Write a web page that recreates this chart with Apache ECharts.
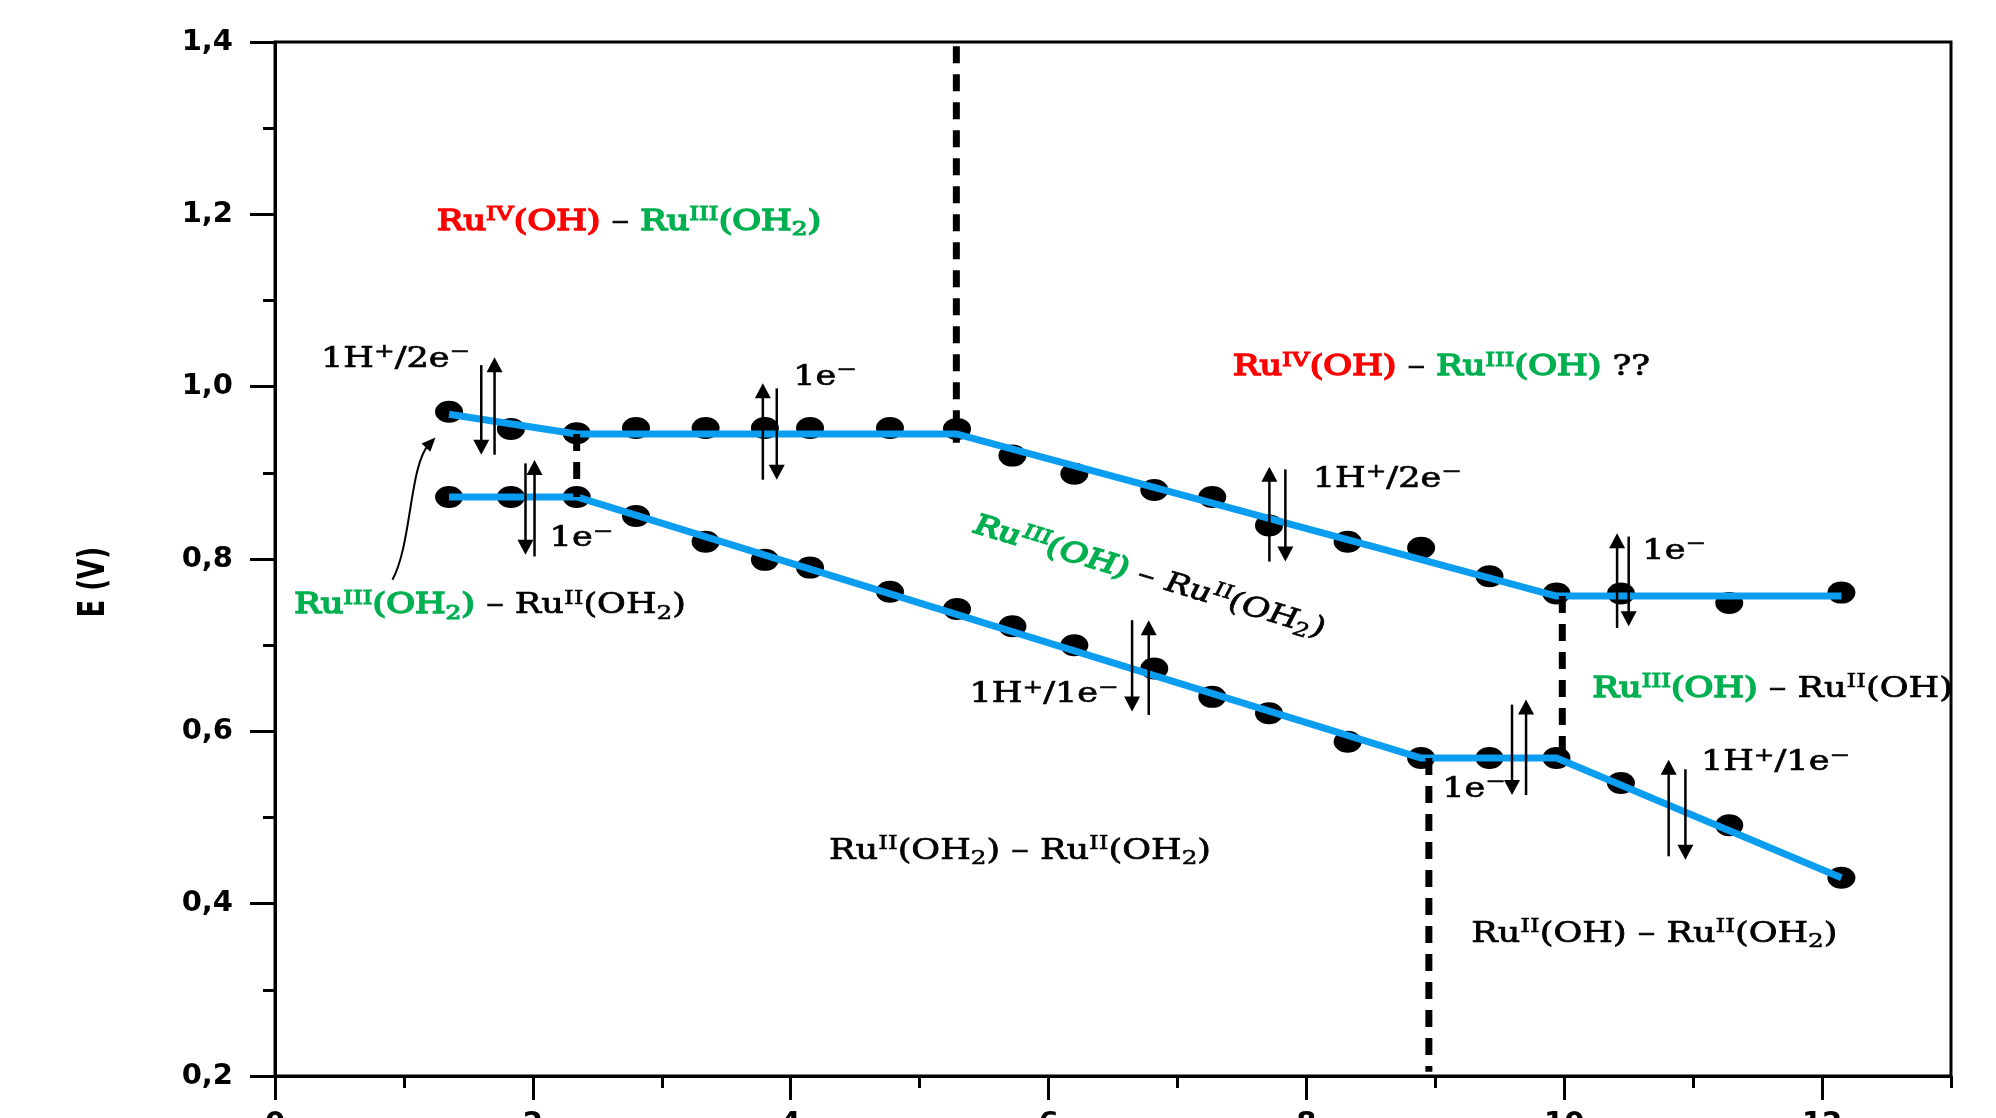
<!DOCTYPE html>
<html><head><meta charset="utf-8">
<script src="https://cdn.jsdelivr.net/npm/echarts@6/dist/echarts.min.js"></script>
<style>html,body{margin:0;padding:0;background:#fff}#c{width:1996px;height:1118px}</style>
</head><body><div id="c"></div>
<script>
// ---- data ----
const pH = [1.35, 1.83, 2.34, 2.80, 3.34, 3.80, 4.15, 4.77, 5.29, 5.72, 6.20, 6.82, 7.27, 7.71, 8.32, 8.89, 9.42, 9.94, 10.44, 11.28, 12.15];
const upperE = [0.971, 0.951, 0.946, 0.952, 0.952, 0.952, 0.952, 0.952, 0.951, 0.920, 0.899, 0.880, 0.872, 0.839, 0.820, 0.813, 0.780, 0.760, 0.760, 0.749, 0.761];
const lowerE = [0.872, 0.872, 0.872, 0.850, 0.820, 0.799, 0.790, 0.762, 0.742, 0.722, 0.700, 0.673, 0.640, 0.621, 0.588, 0.569, 0.569, 0.569, 0.540, 0.491, 0.430];
// fitted (blue) segments
const upperFitX = [1.35, 2.34, 5.29, 9.94, 12.15];
const upperFitE = [0.968, 0.945, 0.945, 0.757, 0.757];
const lowerFitX = [1.35, 2.34, 8.89, 9.94, 12.15];
const lowerFitE = [0.872, 0.872, 0.569, 0.569, 0.430];
// dashed boundaries
const dashX = [5.285, 2.34, 9.985, 8.95];
const dashTop = [1.395, 0.945, 0.757, 0.569];
const dashBottom = [0.935, 0.872, 0.569, 0.205];
// double arrows: x position, start E, tip E
const arrowX    = [1.600, 1.703, 1.943, 2.013, 3.784, 3.892, 7.713, 7.837, 6.648, 6.777, 9.595, 9.704, 10.41, 10.50, 10.81, 10.94];
const arrowFrom = [1.025, 0.921, 0.911, 0.803, 0.892, 0.998, 0.797, 0.904, 0.729, 0.619, 0.631, 0.526, 0.720, 0.826, 0.455, 0.556];
const arrowTo   = [0.921, 1.034, 0.805, 0.915, 1.004, 0.892, 0.907, 0.797, 0.623, 0.729, 0.526, 0.637, 0.830, 0.722, 0.567, 0.451];
// curved pointer (start, control 1, control 2, end)
const curveX = [0.911, 1.059, 1.044, 1.245];
const curveE = [0.776, 0.816, 0.909, 0.941];
// annotation texts
const noteX = [1.257, 7.431, 0.149, 10.22, 4.298, 9.279, 0.357, 4.020, 2.130, 8.049, 5.387, 10.606, 9.054, 11.06];
const noteE = [1.190, 1.0215, 0.745, 0.648, 0.4604, 0.3637, 1.031, 1.010, 0.823, 0.892, 0.642, 0.8086, 0.532, 0.563];
const noteText = [
  '{r|Ru}{rs|IV}{r|(OH)}{k| – }{g|Ru}{gs|III}{g|(OH}{gb|2}{g|)}',
  '{r|Ru}{rs|IV}{r|(OH)}{k| – }{g|Ru}{gs|III}{g|(OH)}{k| ??}',
  '{g|Ru}{gs|III}{g|(OH}{gb|2}{g|)}{k| – Ru}{ks|II}{k|(OH}{kb|2}{k|)}',
  '{g|Ru}{gs|III}{g|(OH)}{k| – Ru}{ks|II}{k|(OH)}',
  '{k|Ru}{ks|II}{k|(OH}{kb|2}{k|) – Ru}{ks|II}{k|(OH}{kb|2}{k|)}',
  '{k|Ru}{ks|II}{k|(OH) – Ru}{ks|II}{k|(OH}{kb|2}{k|)}',
  '{k|1H}{ks|+}{k|/2e}{ks|−}',
  '{k|1e}{ks|−}',
  '{k|1e}{ks|−}',
  '{k|1H}{ks|+}{k|/2e}{ks|−}',
  '{k|1H}{ks|+}{k|/1e}{ks|−}',
  '{k|1e}{ks|−}',
  '{k|1e}{ks|−}',
  '{k|1H}{ks|+}{k|/1e}{ks|−}'
];
// rotated label
const rotX = 5.422, rotE = 0.8396;
const rotText = '{g|Ru}{gs|III}{g|(OH)}{k| – Ru}{ks|II}{k|(OH}{kb|2}{k|)}';
const xTickLabels = ['0', '2', '4', '6', '8', '10', '12'];
const yAxisTitle = 'E (V)';

// ---- chart ----
const chart = echarts.init(document.getElementById('c'), null, {renderer: 'canvas'});
const BLACK = '#000';
const option = {
  animation: false,
  backgroundColor: '#fff',
  grid: {left: 275, right: 45, top: 42, bottom: 42, show: true, borderColor: BLACK, borderWidth: 3,
         containLabel: false, outerBoundsMode: 'none'},
  xAxis: [{
    type: 'value', min: 0, max: 13, interval: 1,
    axisLine: {show: true, onZero: false, lineStyle: {color: BLACK, width: 3}},
    axisTick: {show: true, length: 12, lineStyle: {color: BLACK, width: 3}},
    axisLabel: {margin: 34, fontSize: 29, fontWeight: 'bold', fontFamily: 'DejaVu Sans', color: BLACK,
      formatter: v => xTickLabels.indexOf(String(v)) >= 0 ? String(v) : ''},
    splitLine: {show: false}
  }, {
    type: 'value', min: 0, max: 13, position: 'bottom',
    axisLine: {show: false, onZero: false},
    axisTick: {show: true, length: 24, customValues: xTickLabels.map(Number), lineStyle: {color: BLACK, width: 3}},
    axisLabel: {show: false},
    splitLine: {show: false}
  }],
  yAxis: {
    type: 'value', min: 0.2, max: 1.4, interval: 0.2,
    axisLine: {show: true, onZero: false, lineStyle: {color: BLACK, width: 3}},
    axisTick: {show: true, length: 25, lineStyle: {color: BLACK, width: 3}},
    minorTick: {show: true, splitNumber: 2, length: 12, lineStyle: {color: BLACK, width: 3}},
    axisLabel: {margin: 42, fontSize: 29, fontWeight: 'bold', fontFamily: 'DejaVu Sans', color: BLACK,
      formatter: v => v.toFixed(1).replace('.', ',')},
    splitLine: {show: false}
  },
  series: [
    {type: 'scatter', name: 'upper', z: 2, symbol: 'circle', symbolSize: [28, 22], itemStyle: {color: BLACK, opacity: 1},
     data: pH.map((x, i) => [x, upperE[i]])},
    {type: 'scatter', name: 'lower', z: 2, symbol: 'circle', symbolSize: [28, 22], itemStyle: {color: BLACK, opacity: 1},
     data: pH.map((x, i) => [x, lowerE[i]])},
    {type: 'line', name: 'upperFit', z: 3, showSymbol: false, symbol: 'none', lineStyle: {color: '#0B9DF0', width: 7},
     data: upperFitX.map((x, i) => [x, upperFitE[i]])},
    {type: 'line', name: 'lowerFit', z: 3, showSymbol: false, symbol: 'none', lineStyle: {color: '#0B9DF0', width: 7},
     data: lowerFitX.map((x, i) => [x, lowerFitE[i]])}
  ].concat(dashX.map((x, i) => ({
    type: 'line', z: 4, showSymbol: false, symbol: 'none',
    lineStyle: {color: BLACK, width: 7, type: [17, 11]},
    data: [[x, dashTop[i]], [x, dashBottom[i]]]
  })))
};
chart.setOption(option);

// ---- annotations placed through the chart's own scales ----
const P = (x, e) => chart.convertToPixel({seriesIndex: 0}, [x, e]);
const FAM = '"DejaVu Serif", serif';
const FS = 27, SS = 19, LH = 34;
function richStyles() {
  const mk = (color, sw, size, lh, va) => ({
    fill: color, stroke: color, lineWidth: sw,
    font: size + 'px ' + FAM, fontSize: size, fontFamily: FAM,
    lineHeight: lh, verticalAlign: va
  });
  return {
    r: mk('#FF0000', 1.6, FS, LH, 'middle'), rs: mk('#FF0000', 1.2, SS, SS, 'top'),
    g: mk('#00B050', 1.6, FS, LH, 'middle'), gs: mk('#00B050', 1.2, SS, SS, 'top'), gb: mk('#00B050', 1.2, SS, SS, 'bottom'),
    k: mk(BLACK, 0.7, FS, LH, 'middle'), ks: mk(BLACK, 0.5, SS, SS, 'top'), kb: mk(BLACK, 0.5, SS, SS, 'bottom')
  };
}
const SCALEX = 1.3;
const graphics = [];
noteText.forEach((t, i) => {
  const p = P(noteX[i], noteE[i]);
  graphics.push({
    type: 'group', x: p[0], y: p[1], scaleX: SCALEX, z: 100,
    children: [{type: 'text', z: 100, style: {text: t, rich: richStyles(), font: FS + 'px ' + FAM,
      fill: BLACK, align: 'left', verticalAlign: 'middle'}}]
  });
});
(function () {
  const p = P(rotX, rotE);
  graphics.push({
    type: 'group', x: p[0], y: p[1], scaleX: SCALEX, z: 100,
    children: [{type: 'text', z: 100, rotation: -0.373, style: {text: rotText, rich: richStyles(),
      font: FS + 'px ' + FAM, fill: BLACK, align: 'left', verticalAlign: 'middle'}}]
  });
})();
// y-axis title, centred 180 px left of the axis line
(function () {
  const p = P(0, 0.773);
  graphics.push({
    type: 'group', x: p[0] - 180, y: p[1], scaleX: 1.4, z: 100,
    children: [{type: 'text', z: 100, rotation: Math.PI / 2, style: {text: yAxisTitle,
      font: 'bold 26px "DejaVu Sans"', fill: BLACK, align: 'center', verticalAlign: 'middle'}}]
  });
})();
// arrows
arrowX.forEach((x, i) => {
  const a = P(x, arrowFrom[i]), b = P(x, arrowTo[i]);
  const dir = b[1] > a[1] ? 1 : -1;
  const hw = 8, hh = 15;
  graphics.push({type: 'line', z: 101, shape: {x1: a[0], y1: a[1], x2: b[0], y2: b[1] - dir * hh * 0.6},
    style: {stroke: BLACK, lineWidth: 2.5}});
  graphics.push({type: 'polygon', z: 101, shape: {points: [[b[0], b[1]], [b[0] - hw, b[1] - dir * hh], [b[0] + hw, b[1] - dir * hh]]},
    style: {fill: BLACK}});
});
// curved pointer
(function () {
  const c = curveX.map((x, i) => P(x, curveE[i]));
  const dx = c[3][0] - c[2][0], dy = c[3][1] - c[2][1];
  const L = Math.sqrt(dx * dx + dy * dy), ux = dx / L, uy = dy / L;
  const hh = 14, hw = 6;
  const bx = c[3][0] - ux * hh, by = c[3][1] - uy * hh;
  graphics.push({type: 'bezierCurve', z: 101,
    shape: {x1: c[0][0], y1: c[0][1], cpx1: c[1][0], cpy1: c[1][1], cpx2: c[2][0], cpy2: c[2][1], x2: bx + ux * 4, y2: by + uy * 4},
    style: {stroke: BLACK, lineWidth: 2, fill: null}});
  graphics.push({type: 'polygon', z: 101,
    shape: {points: [[c[3][0], c[3][1]], [bx - uy * hw, by + ux * hw], [bx + uy * hw, by - ux * hw]]},
    style: {fill: BLACK}});
})();
chart.setOption({graphic: graphics});
</script>
</body></html>
